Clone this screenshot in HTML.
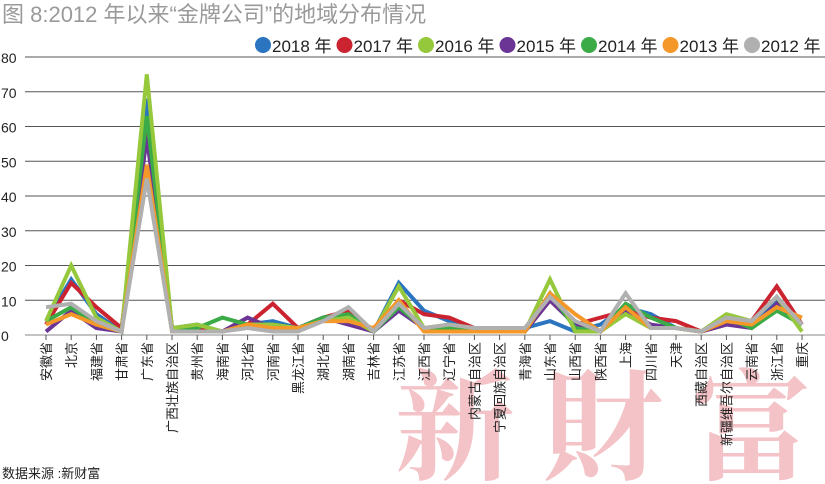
<!DOCTYPE html>
<html><head><meta charset="utf-8"><style>
html,body{margin:0;background:#fff;width:825px;height:484px;overflow:hidden;}
svg{display:block;font-family:"Liberation Sans","Noto Sans CJK SC",sans-serif;}
</style></head><body>
<svg width="825" height="484">
<text x="395" y="470" font-size="120" letter-spacing="28" fill="#f3c3c7" font-family="'Noto Serif CJK SC',serif" font-weight="bold">新財富</text>
<text x="2" y="22" font-size="22" fill="#9a9a9a">图 8:2012 年以来“金牌公司”的地域分布情况</text>
<g id="grid"></g><g id="lines"></g><g id="xl"></g><g id="legend"></g>
<text x="2" y="478" font-size="13" fill="#222">数据来源 :新财富</text>
</svg>
<script>
const categories=["安徽省","北京","福建省","甘肃省","广东省","广西壮族自治区","贵州省","海南省","河北省","河南省","黑龙江省","湖北省","湖南省","吉林省","江苏省","江西省","辽宁省","内蒙古自治区","宁夏回族自治区","青海省","山东省","山西省","陕西省","上海","四川省","天津","西藏自治区","新疆维吾尔自治区","云南省","浙江省","重庆"];
const yTicks=[0,10,20,30,40,50,60,70,80];
const s2018=[4,16,6,1,68,2,3,1,3,4,2,5,6,1,15,7,4,2,2,2,4,1,3,8,6,2,1,4,4,10,3];
const s2017=[3,15,8,2,60,2,2,1,3,9,2,5,7,1,10,6,5,2,2,1,10,3,5,7,5,4,1,3,4,14,3];
const s2016=[4,20,5,1,75,2,3,1,3,3,2,4,5,1,14,2,3,2,2,1,16,1,1,6,2,2,1,6,4,11,1];
const s2015=[1,7,2,1,57,2,1,1,5,2,2,5,3,1,7,2,2,2,2,1,10,3,1,7,3,2,1,3,2,9,3];
const s2014=[4,8,3,1,63,2,2,5,3,3,2,5,6,1,8,2,2,2,2,1,12,2,1,9,5,2,1,5,2,7,3];
const s2013=[3,6,3,1,49,1,1,1,3,2,2,4,4,2,10,1,1,1,1,1,12,6,1,8,2,2,1,4,3,8,5];
const s2012=[8,9,4,1,45,1,1,1,2,1,1,4,8,1,9,2,3,2,2,2,11,4,1,12,2,2,1,5,4,11,3];
const seriesNames=["2018 年","2017 年","2016 年","2015 年","2014 年","2013 年","2012 年"];
const seriesColors=["#2a74c0","#cc2330","#96c83c","#6a3595","#3aab47","#f4982a","#b0b0b0"];
const seriesData=[s2018,s2017,s2016,s2015,s2014,s2013,s2012];
const NS="http://www.w3.org/2000/svg";
const x=i=>46+i*25.2, y=v=>335-v*3.475;
function mk(t,a,p){const e=document.createElementNS(NS,t);for(const k in a)e.setAttribute(k,a[k]);p.appendChild(e);return e;}
const g=document.getElementById('grid');
yTicks.forEach(t=>{
 const l=mk('line',{x1:25,x2:825,y1:y(t),y2:y(t),stroke:t===0?'#888':'#555','stroke-width':1},g);
 
 
 const tx=mk('text',{x:1,y:y(t)+6,'font-size':14,fill:'#222'},g);tx.textContent=t;
 
 
});
const xl=document.getElementById('xl');
categories.forEach((c,i)=>{
 const tk=mk('line',{x1:x(i),x2:x(i),y1:335,y2:340,stroke:'#555'},xl);
 
 
 const t=mk('text',{x:0,y:0,'font-size':13,fill:'#222','text-anchor':'end',transform:`translate(${x(i)+5},342) rotate(-90)`},xl);
 t.textContent=c;
 
 
});
const order=[0,1,3,4,2,5,6];
const lg=document.getElementById('lines');
order.forEach(k=>{
 const p=mk('polyline',{points:seriesData[k].map((v,i)=>x(i)+','+y(v)).join(' '),fill:'none',stroke:seriesColors[k],'stroke-width':4,'stroke-linejoin':'miter'},lg);
 
 
});
const leg=document.getElementById('legend');
let lx=255;
seriesNames.forEach((n,k)=>{
 const grp=mk('g',{},leg);
 
 
 mk('circle',{cx:lx+8,cy:45,r:8,fill:seriesColors[k]},grp);
 const t=mk('text',{x:lx+17,y:52,'font-size':17,fill:'#222'},grp);t.textContent=n;
 lx+=81.5;
});
</script>
</body></html>
